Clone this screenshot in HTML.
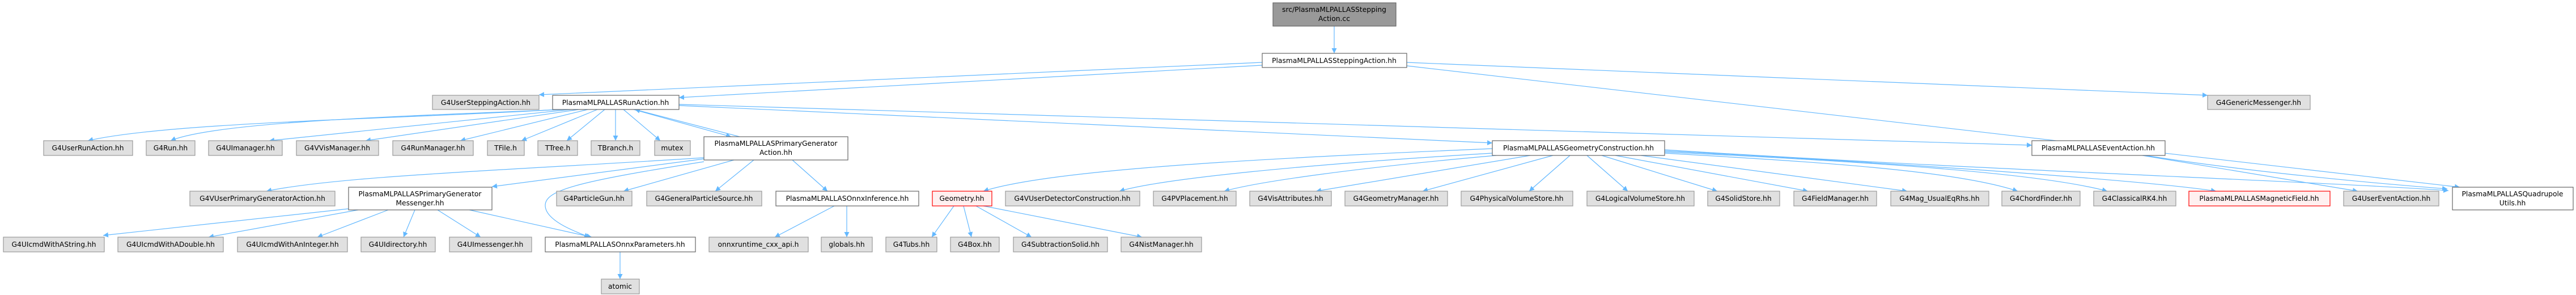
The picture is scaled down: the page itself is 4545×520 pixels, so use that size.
<!DOCTYPE html>
<html><head><meta charset="utf-8"><style>
html,body{margin:0;padding:0;background:#fff;}
svg{display:block;}
text{font-family:"DejaVu Sans","Liberation Sans",sans-serif;font-size:12.3px;fill:#000;text-anchor:middle;}
.g{fill:#e0e0e0;stroke:#999;stroke-width:1.2}
.w{fill:#fff;stroke:#666;stroke-width:1.2}
.r{fill:#fff0f0;stroke:#f00;stroke-width:1.2}
.k{fill:#999;stroke:#666;stroke-width:1.2}
.e{stroke:#63b8ff;stroke-width:1.2;fill:none;marker-end:url(#a)}
</style></head><body>
<svg width="4545" height="520" viewBox="0 0 4545 520" xmlns="http://www.w3.org/2000/svg">
<defs><marker id="a" viewBox="0 0 10 10" refX="10" refY="5" markerWidth="9" markerHeight="9" orient="auto" markerUnits="userSpaceOnUse"><path d="M0,0 L10,5 L0,10 z" fill="#63b8ff"/></marker></defs>
<line class="e" x1="2354" y1="46" x2="2354" y2="94"/>
<line class="e" x1="2227" y1="110" x2="951" y2="167"/>
<line class="e" x1="2227" y1="115" x2="1198" y2="172"/>
<line class="e" x1="2482" y1="110" x2="3895" y2="168"/>
<path class="e" d="M2482,116 C3200,200 3900,280 4340,330"/>
<path class="e" d="M985,193 C700,210 300,215 155,248"/>
<path class="e" d="M995,193 C700,205 380,215 301,248"/>
<line class="e" x1="1007" y1="193" x2="475" y2="248"/>
<line class="e" x1="1021" y1="193" x2="645" y2="248"/>
<line class="e" x1="1037" y1="193" x2="812" y2="248"/>
<line class="e" x1="1054" y1="193" x2="920" y2="248"/>
<line class="e" x1="1067" y1="193" x2="1000" y2="248"/>
<line class="e" x1="1086" y1="193" x2="1086" y2="248"/>
<line class="e" x1="1100" y1="193" x2="1165" y2="248"/>
<line class="e" x1="1118" y1="193" x2="1290" y2="241"/>
<line class="e" x1="1305" y1="241" x2="1120" y2="193"/>
<line class="e" x1="1198" y1="186" x2="2633" y2="252"/>
<line class="e" x1="1198" y1="184" x2="3585" y2="256"/>
<path class="e" d="M1242,278 C900,300 600,310 470,337"/>
<line class="e" x1="1242" y1="280" x2="868" y2="329"/>
<line class="e" x1="1295" y1="282" x2="1100" y2="337"/>
<line class="e" x1="1330" y1="282" x2="1262" y2="337"/>
<line class="e" x1="1398" y1="282" x2="1460" y2="337"/>
<path class="e" d="M1242,285 C1020,320 962,335 962,362 C962,390 1020,410 1040,418"/>
<line class="e" x1="615" y1="368" x2="182" y2="415"/>
<line class="e" x1="632" y1="370" x2="368" y2="418"/>
<line class="e" x1="685" y1="370" x2="560" y2="418"/>
<line class="e" x1="732" y1="370" x2="712" y2="418"/>
<line class="e" x1="772" y1="370" x2="848" y2="418"/>
<line class="e" x1="828" y1="370" x2="1044" y2="418"/>
<line class="e" x1="1094" y1="444" x2="1094" y2="492"/>
<line class="e" x1="1472" y1="363" x2="1367" y2="418"/>
<line class="e" x1="1494" y1="363" x2="1494" y2="418"/>
<path class="e" d="M2633,262 C2200,280 1850,300 1735,337"/>
<path class="e" d="M2633,270 C2300,290 2050,315 1975,337"/>
<path class="e" d="M2640,274 C2400,295 2220,320 2160,337"/>
<line class="e" x1="2700" y1="274" x2="2322" y2="337"/>
<line class="e" x1="2740" y1="274" x2="2510" y2="337"/>
<line class="e" x1="2770" y1="274" x2="2698" y2="337"/>
<line class="e" x1="2800" y1="274" x2="2872" y2="337"/>
<line class="e" x1="2826" y1="274" x2="3030" y2="337"/>
<line class="e" x1="2850" y1="274" x2="3190" y2="337"/>
<line class="e" x1="2895" y1="274" x2="3365" y2="337"/>
<path class="e" d="M2937,270 C3200,285 3450,300 3560,337"/>
<path class="e" d="M2937,268 C3300,285 3600,305 3718,337"/>
<path class="e" d="M2937,266 C3400,290 3800,320 3910,337"/>
<path class="e" d="M2937,264 C3500,300 4100,320 4320,336"/>
<line class="e" x1="1683" y1="363" x2="1644" y2="418"/>
<line class="e" x1="1700" y1="363" x2="1714" y2="418"/>
<line class="e" x1="1722" y1="363" x2="1820" y2="418"/>
<line class="e" x1="1735" y1="363" x2="2015" y2="418"/>
<line class="e" x1="3780" y1="274" x2="4160" y2="337"/>
<path class="e" d="M3785,274 C3950,300 4150,320 4318,333"/>
<rect class="k" x="2246" y="5" width="217" height="41"/><text x="2354" y="21">src/PlasmaMLPALLASStepping</text><text x="2354" y="37">Action.cc</text>
<rect class="w" x="2227" y="94" width="255" height="25"/><text x="2354" y="111">PlasmaMLPALLASSteppingAction.hh</text>
<rect class="g" x="763" y="168" width="188" height="25"/><text x="857" y="185">G4UserSteppingAction.hh</text>
<rect class="w" x="975" y="168" width="223" height="25"/><text x="1086" y="185">PlasmaMLPALLASRunAction.hh</text>
<rect class="g" x="3895" y="168" width="181" height="25"/><text x="3985" y="185">G4GenericMessenger.hh</text>
<rect class="g" x="77" y="248" width="157" height="26"/><text x="155" y="265">G4UserRunAction.hh</text>
<rect class="g" x="258" y="248" width="86" height="26"/><text x="301" y="265">G4Run.hh</text>
<rect class="g" x="368" y="248" width="130" height="26"/><text x="433" y="265">G4UImanager.hh</text>
<rect class="g" x="523" y="248" width="145" height="26"/><text x="595" y="265">G4VVisManager.hh</text>
<rect class="g" x="693" y="248" width="142" height="26"/><text x="764" y="265">G4RunManager.hh</text>
<rect class="g" x="860" y="248" width="65" height="26"/><text x="892" y="265">TFile.h</text>
<rect class="g" x="949" y="248" width="70" height="26"/><text x="984" y="265">TTree.h</text>
<rect class="g" x="1043" y="248" width="86" height="26"/><text x="1086" y="265">TBranch.h</text>
<rect class="g" x="1155" y="248" width="63" height="26"/><text x="1186" y="265">mutex</text>
<rect class="w" x="1242" y="241" width="254" height="41"/><text x="1369" y="257">PlasmaMLPALLASPrimaryGenerator</text><text x="1369" y="273">Action.hh</text>
<rect class="w" x="2633" y="248" width="304" height="26"/><text x="2785" y="265">PlasmaMLPALLASGeometryConstruction.hh</text>
<rect class="w" x="3585" y="248" width="235" height="26"/><text x="3702" y="265">PlasmaMLPALLASEventAction.hh</text>
<rect class="g" x="335" y="337" width="256" height="26"/><text x="463" y="354">G4VUserPrimaryGeneratorAction.hh</text>
<rect class="w" x="615" y="330" width="253" height="40"/><text x="741" y="346">PlasmaMLPALLASPrimaryGenerator</text><text x="741" y="362">Messenger.hh</text>
<rect class="g" x="982" y="337" width="133" height="26"/><text x="1048" y="354">G4ParticleGun.hh</text>
<rect class="g" x="1141" y="337" width="203" height="26"/><text x="1242" y="354">G4GeneralParticleSource.hh</text>
<rect class="w" x="1369" y="337" width="252" height="26"/><text x="1495" y="354">PlasmaMLPALLASOnnxInference.hh</text>
<rect class="r" x="1645" y="337" width="105" height="26"/><text x="1697" y="354">Geometry.hh</text>
<rect class="g" x="1774" y="337" width="237" height="26"/><text x="1892" y="354">G4VUserDetectorConstruction.hh</text>
<rect class="g" x="2035" y="337" width="146" height="26"/><text x="2108" y="354">G4PVPlacement.hh</text>
<rect class="g" x="2205" y="337" width="144" height="26"/><text x="2277" y="354">G4VisAttributes.hh</text>
<rect class="g" x="2373" y="337" width="181" height="26"/><text x="2463" y="354">G4GeometryManager.hh</text>
<rect class="g" x="2578" y="337" width="197" height="26"/><text x="2676" y="354">G4PhysicalVolumeStore.hh</text>
<rect class="g" x="2800" y="337" width="189" height="26"/><text x="2894" y="354">G4LogicalVolumeStore.hh</text>
<rect class="g" x="3013" y="337" width="127" height="26"/><text x="3076" y="354">G4SolidStore.hh</text>
<rect class="g" x="3165" y="337" width="146" height="26"/><text x="3238" y="354">G4FieldManager.hh</text>
<rect class="g" x="3336" y="337" width="173" height="26"/><text x="3422" y="354">G4Mag_UsualEqRhs.hh</text>
<rect class="g" x="3532" y="337" width="138" height="26"/><text x="3601" y="354">G4ChordFinder.hh</text>
<rect class="g" x="3694" y="337" width="145" height="26"/><text x="3766" y="354">G4ClassicalRK4.hh</text>
<rect class="r" x="3862" y="337" width="249" height="26"/><text x="3986" y="354">PlasmaMLPALLASMagneticField.hh</text>
<rect class="g" x="4135" y="337" width="168" height="26"/><text x="4219" y="354">G4UserEventAction.hh</text>
<rect class="w" x="4327" y="330" width="213" height="40"/><text x="4433" y="346">PlasmaMLPALLASQuadrupole</text><text x="4433" y="362">Utils.hh</text>
<rect class="g" x="6" y="418" width="178" height="26"/><text x="95" y="435">G4UIcmdWithAString.hh</text>
<rect class="g" x="208" y="418" width="186" height="26"/><text x="301" y="435">G4UIcmdWithADouble.hh</text>
<rect class="g" x="419" y="418" width="194" height="26"/><text x="516" y="435">G4UIcmdWithAnInteger.hh</text>
<rect class="g" x="637" y="418" width="131" height="26"/><text x="702" y="435">G4UIdirectory.hh</text>
<rect class="g" x="793" y="418" width="145" height="26"/><text x="865" y="435">G4UImessenger.hh</text>
<rect class="w" x="962" y="418" width="265" height="26"/><text x="1094" y="435">PlasmaMLPALLASOnnxParameters.hh</text>
<rect class="g" x="1251" y="418" width="175" height="26"/><text x="1338" y="435">onnxruntime_cxx_api.h</text>
<rect class="g" x="1449" y="418" width="90" height="26"/><text x="1494" y="435">globals.hh</text>
<rect class="g" x="1563" y="418" width="90" height="26"/><text x="1608" y="435">G4Tubs.hh</text>
<rect class="g" x="1677" y="418" width="86" height="26"/><text x="1720" y="435">G4Box.hh</text>
<rect class="g" x="1788" y="418" width="166" height="26"/><text x="1871" y="435">G4SubtractionSolid.hh</text>
<rect class="g" x="1978" y="418" width="142" height="26"/><text x="2049" y="435">G4NistManager.hh</text>
<rect class="g" x="1061" y="492" width="67" height="26"/><text x="1094" y="509">atomic</text>
</svg>
</body></html>
